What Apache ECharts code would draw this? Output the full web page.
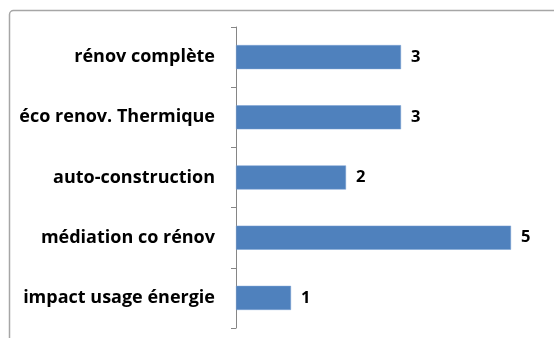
<!DOCTYPE html>
<html><head><meta charset="utf-8">
<script src="https://cdn.jsdelivr.net/npm/echarts@6/dist/echarts.min.js"></script>
<style>html,body{margin:0;padding:0;background:#fff}#c{width:554px;height:338px}</style>
</head><body><div id="c"></div>
<script>
const categories = ["rénov complète", "éco renov. Thermique", "auto-construction", "médiation co rénov", "impact usage énergie"];
const values = [3, 3, 2, 5, 1];

const chart = echarts.init(document.getElementById('c'), null, {renderer: 'canvas'});
const fontFam = '"Open Sans", sans-serif';
chart.setOption({
  animation: false,
  backgroundColor: '#fff',
  graphic: [{
    type: 'rect', silent: true, z: -1,
    shape: {x: 9.5, y: 10.5, width: 560, height: 340, r: 4},
    style: {fill: 'none', stroke: '#a6a6a6', lineWidth: 1.5}
  }],
  grid: {left: 236, right: 43, top: 27, bottom: 10, containLabel: false},
  xAxis: {
    type: 'value', min: 0, max: 5, show: false
  },
  yAxis: {
    type: 'category', data: categories, inverse: true,
    axisLine: {show: true, lineStyle: {color: '#868686', width: 1}},
    axisTick: {show: true, length: 5, lineStyle: {color: '#868686'}},
    axisLabel: {color: '#000', fontWeight: 'bold', fontSize: 18, fontFamily: fontFam, margin: 21}
  },
  series: [{
    type: 'bar', data: values, barCategoryGap: '60%',
    itemStyle: {color: '#4f81bd', borderColor: '#7aa0d4', borderWidth: 0.5},
    label: {show: true, position: 'right', distance: 10, color: '#000', fontWeight: 'bold', fontSize: 16.5, fontFamily: fontFam}
  }]
});
</script></body></html>
